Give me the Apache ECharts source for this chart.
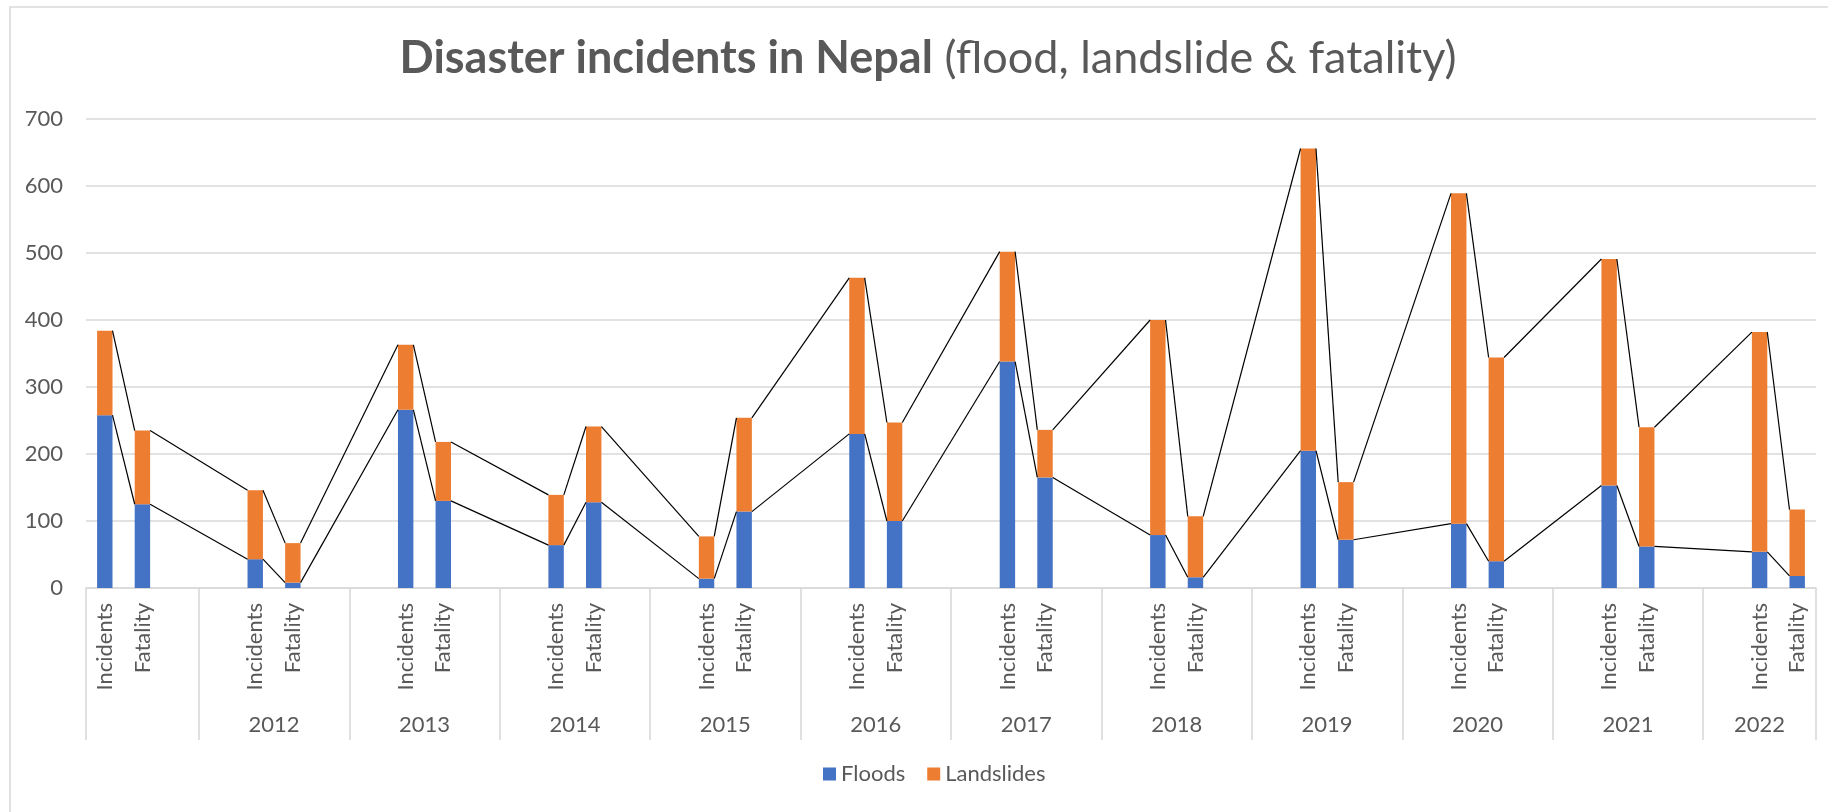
<!DOCTYPE html>
<html>
<head>
<meta charset="utf-8">
<script src="https://cdn.jsdelivr.net/npm/echarts@6/dist/echarts.min.js"></script>
<style>
html,body{margin:0;padding:0;background:#fff;}
#chart{width:1828px;height:812px;}
</style>
</head>
<body>
<div id="chart"></div>
<script>
// ---- data ----
const years = ['', '2012', '2013', '2014', '2015', '2016', '2017', '2018', '2019', '2020', '2021', '2022'];
const subCategories = ['Incidents', 'Fatality'];
const floodsIncidents     = [258, 43, 266, 64, 14, 230, 338, 79, 205, 96, 153, 54];
const landslidesIncidents = [126, 103, 97, 75, 63, 233, 164, 321, 451, 493, 338, 328];
const floodsFatality      = [125, 8, 130, 128, 114, 100, 165, 16, 72, 40, 62, 18];
const landslidesFatality  = [110, 59, 88, 113, 140, 147, 71, 91, 86, 304, 178, 99];
const yTicks = [0, 100, 200, 300, 400, 500, 600, 700];
const seriesNames = ['Floods', 'Landslides'];

// ---- layout of category slots (Excel layout with blank rows between years) ----
const nGroups = years.length;
const nSlots = 4 * (nGroups - 1) + 2;        // 46
const categories = new Array(nSlots).fill('');
const floodData = new Array(nSlots).fill(null);
const slideData = new Array(nSlots).fill(null);
const barSlots = [];
for (let k = 0; k < nGroups; k++) {
  const si = 4 * k, sf = 4 * k + 1;
  categories[si] = subCategories[0];
  categories[sf] = subCategories[1];
  floodData[si] = floodsIncidents[k];
  slideData[si] = landslidesIncidents[k];
  floodData[sf] = floodsFatality[k];
  slideData[sf] = landslidesFatality[k];
  barSlots.push(si, sf);
}
const boundaries = [0];
const centers = [];
for (let k = 0; k < nGroups; k++) {
  const start = k === 0 ? 0 : 4 * k - 1;
  const end = Math.min(4 * k + 3, nSlots);
  if (k > 0) boundaries.push(start);
  centers.push((start + end) / 2);
}
boundaries.push(nSlots);

// series lines segments: [slotA, valA, slotB, valB]
const seriesLineData = [];
for (let i = 0; i < barSlots.length - 1; i++) {
  const a = barSlots[i], b = barSlots[i + 1];
  seriesLineData.push([a, floodData[a], b, floodData[b]]);
  seriesLineData.push([a, floodData[a] + slideData[a], b, floodData[b] + slideData[b]]);
}

const BAR_FRAC = 0.41;
const FONT = 'Lato';
const TXT = '#595959';
const GRID = '#d9d9d9';

const chart = echarts.init(document.getElementById('chart'), null, {renderer: 'canvas'});
chart.setOption({
  animation: false,
  backgroundColor: '#ffffff',
  textStyle: {fontFamily: FONT},
  graphic: [
    {
      type: 'rect', silent: true, z: -10,
      shape: {x: 10, y: 7, width: 1900, height: 900},
      style: {fill: 'none', stroke: GRID, lineWidth: 1.6}
    },
    {
      type: 'text', x: 928, y: 58,
      style: {
        text: '{b|Disaster incidents in Nepal}{n| (flood, landslide & fatality)}',
        align: 'center', verticalAlign: 'middle',
        rich: {
          b: {fontFamily: FONT, fontSize: 45, fontWeight: 'bold', fill: TXT},
          n: {fontFamily: FONT, fontSize: 45, fontWeight: 'normal', fill: TXT}
        }
      }
    }
  ],
  legend: {
    data: seriesNames,
    bottom: 22,
    left: 818,
    itemWidth: 13,
    itemHeight: 13,
    itemGap: 22,
    icon: 'rect',
    textStyle: {fontFamily: FONT, fontSize: 22, color: TXT}
  },
  grid: {left: 86, right: 12, top: 119, height: 469, containLabel: false},
  xAxis: [
    {
      type: 'category',
      data: categories,
      boundaryGap: true,
      axisLine: {show: true, lineStyle: {color: GRID, width: 1.6}},
      axisTick: {show: false},
      axisLabel: {
        interval: 0, rotate: 90, margin: 15,
        fontFamily: FONT, fontSize: 22, color: TXT
      },
      splitLine: {show: false}
    },
    {
      type: 'value',
      position: 'bottom',
      min: 0, max: nSlots,
      axisLine: {show: false},
      axisTick: {
        show: true, customValues: boundaries, length: 152, inside: false,
        lineStyle: {color: GRID, width: 1.6}
      },
      axisLabel: {
        show: true, customValues: centers, margin: 126,
        fontFamily: FONT, fontSize: 22, color: TXT,
        formatter: function (v) {
          const idx = centers.findIndex(c => Math.abs(c - v) < 1e-6);
          return idx >= 0 ? years[idx] : '';
        }
      },
      splitLine: {show: false}
    }
  ],
  yAxis: {
    type: 'value',
    min: yTicks[0], max: yTicks[yTicks.length - 1], interval: 100,
    axisLine: {show: false},
    axisTick: {show: false},
    axisLabel: {margin: 23, fontFamily: FONT, fontSize: 22, color: TXT},
    splitLine: {lineStyle: {color: GRID, width: 1.6}}
  },
  series: [
    {
      name: seriesNames[0], type: 'bar', stack: 'total', xAxisIndex: 0,
      barWidth: (BAR_FRAC * 100) + '%',
      itemStyle: {color: '#4472C4'},
      data: floodData
    },
    {
      name: seriesNames[1], type: 'bar', stack: 'total', xAxisIndex: 0,
      barWidth: (BAR_FRAC * 100) + '%',
      itemStyle: {color: '#ED7D31'},
      data: slideData
    },
    {
      name: 'seriesLines', type: 'custom', xAxisIndex: 0, yAxisIndex: 0,
      silent: true, z: 5,
      encode: {x: [0, 2], y: [1, 3]},
      data: seriesLineData,
      renderItem: function (params, api) {
        const p1 = api.coord([api.value(0), api.value(1)]);
        const p2 = api.coord([api.value(2), api.value(3)]);
        const half = api.size([1, 0])[0] * BAR_FRAC / 2;
        return {
          type: 'line',
          shape: {x1: p1[0] + half, y1: p1[1], x2: p2[0] - half, y2: p2[1]},
          style: {stroke: '#000', lineWidth: 1.2}
        };
      }
    }
  ]
});
</script>
</body>
</html>
